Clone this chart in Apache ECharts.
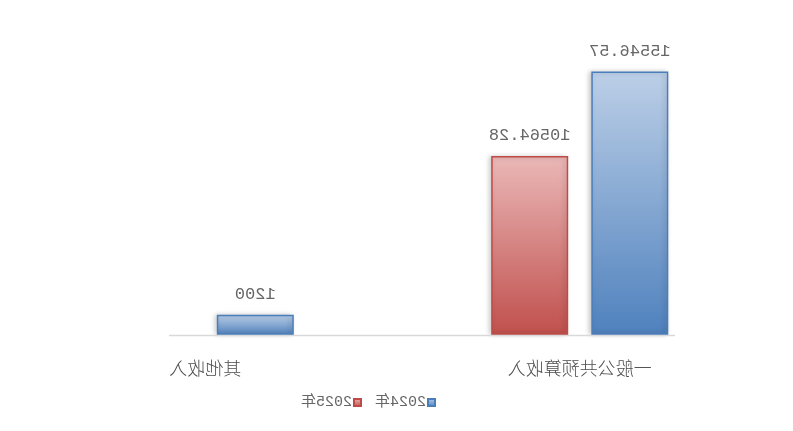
<!DOCTYPE html>
<html>
<head>
<meta charset="utf-8">
<script src="https://cdn.jsdelivr.net/npm/echarts@6/dist/echarts.min.js"></script>
<style>
  html, body { margin: 0; padding: 0; background: #fff; }
  /* 参考图是水平镜像的，整张图翻转 */
  #main { width: 793px; height: 431px; transform: scaleX(-1); }
</style>
</head>
<body>
<div id="main"></div>
<script>
// 数据 ===============================================================
var categories = ['一般公共预算收入', '其他收入'];
var seriesNames = ['2024年', '2025年'];
var values2024 = [15546.57, 1200];
var values2025 = [10564.28, null];

// 函数定义 ===========================================================
function barGradient(top, bottom) {
    return new echarts.graphic.LinearGradient(0, 0, 0, 1, [
        { offset: 0, color: top },
        { offset: 1, color: bottom }
    ]);
}

function makeSeries(name, data, top, bottom, border) {
    return {
        name: name,
        type: 'bar',
        data: data,
        barWidth: 77,
        barGap: '30%',
        itemStyle: {
            color: barGradient(top, bottom),
            borderColor: border,
            borderWidth: 1.5,
            shadowColor: 'rgba(0, 0, 0, 0.22)',
            shadowBlur: 5,
            shadowOffsetX: 2
        },
        label: {
            show: true,
            position: 'top',
            distance: 12,
            color: '#666666',
            fontFamily: 'Liberation Mono',
            fontSize: 17
        }
    };
}

var chart = echarts.init(document.getElementById('main'));
var option = {
    animation: false,
    grid: { left: 26, right: 18, top: 30, bottom: 96 },
    legend: {
        data: seriesNames,
        left: 352,
        top: 390,
        icon: 'rect',
        itemWidth: 7,
        itemHeight: 7,
        itemGap: 13,
        textStyle: {
            color: '#666666',
            fontFamily: 'Liberation Mono, Noto Sans CJK SC',
            fontSize: 15,
            padding: [0, 0, 0, -3]
        }
    },
    xAxis: {
        type: 'category',
        data: categories,
        axisLine: { show: false },
        axisTick: { show: false },
        axisLabel: {
            margin: 24,
            color: '#4d4d4d',
            fontFamily: 'Noto Sans CJK SC',
            fontWeight: 300,
            fontSize: 18
        }
    },
    yAxis: {
        type: 'value',
        min: 0,
        max: 18000,
        show: false,
        splitLine: { show: false }
    },
    graphic: [{
        // 横轴线只画了中间一段
        type: 'line',
        shape: { x1: 118, y1: 335.5, x2: 624, y2: 335.5 },
        style: { stroke: '#d9d9d9', lineWidth: 1.5 },
        z: 10
    }],
    series: [
        makeSeries(seriesNames[0], values2024, '#bccfe7', '#4f81bd', '#4a7ebb'),
        makeSeries(seriesNames[1], values2025, '#eab8b7', '#c0504d', '#be4b48')
    ]
};
chart.setOption(option);
</script>
</body>
</html>
